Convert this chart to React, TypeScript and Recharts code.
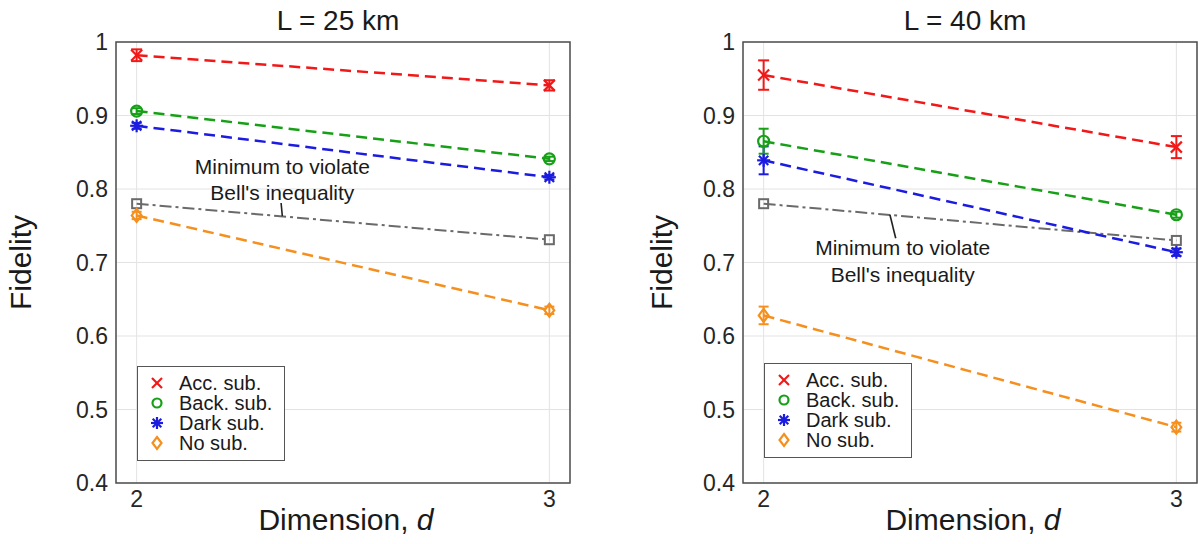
import React from 'react';
import {
  LineChart,
  Line,
  XAxis,
  YAxis,
  CartesianGrid,
  ErrorBar,
  ReferenceArea,
  ReferenceLine,
  ReferenceDot,
  Legend,
} from 'recharts';

// ---------- data ----------
const dimensions = [2, 3];
const xTicks = [2, 3];
const yTicks = [0.4, 0.5, 0.6, 0.7, 0.8, 0.9, 1];
const seriesNames = ['Acc. sub.', 'Back. sub.', 'Dark sub.', 'No sub.'];
const bellLabel = ['Minimum to violate', "Bell's inequality"];
const panelTitles = ['L = 25 km', 'L = 40 km'];

// L = 25 km
const acc25 = [0.982, 0.941];
const acc25Err = [0.008, 0.007];
const back25 = [0.906, 0.841];
const back25Err = [0.004, 0.003];
const dark25 = [0.886, 0.816];
const dark25Err = [0.004, 0.003];
const none25 = [0.764, 0.635];
const none25Err = [0.005, 0.005];
const bell25 = [0.78, 0.731];

// L = 40 km
const acc40 = [0.955, 0.857];
const acc40Err = [0.02, 0.015];
const back40 = [0.865, 0.765];
const back40Err = [0.017, 0.004];
const dark40 = [0.839, 0.714];
const dark40Err = [0.019, 0.005];
const none40 = [0.628, 0.476];
const none40Err = [0.012, 0.006];
const bell40 = [0.78, 0.73];

// annotation anchors (data coordinates)
const note25 = { x: 2.353, y1: 0.83, y2: 0.795, p0: { x: 2.353, y: 0.763 }, p1: { x: 2.35, y: 0.781 } };
const note40 = { x: 2.337, y1: 0.72, y2: 0.684, p0: { x: 2.306, y: 0.765 }, p1: { x: 2.32, y: 0.733 } };

// ---------- styles ----------
const RED = '#f21818';
const GREEN = '#17a017';
const BLUE = '#1c1ce0';
const ORANGE = '#f5901f';
const GRAY = '#6a6a6a';
const TEXT = '#1a1a1a';
const FONT = '"Liberation Sans", Arial, Helvetica, sans-serif';
const DASH = '11 6';
const LW = 2.5;

const makeRows = (
  acc: number[], accErr: number[],
  back: number[], backErr: number[],
  dark: number[], darkErr: number[],
  none: number[], noneErr: number[],
  bell: number[]
) =>
  dimensions.map((d, i) => ({
    d,
    acc: acc[i], accErr: accErr[i],
    back: back[i], backErr: backErr[i],
    dark: dark[i], darkErr: darkErr[i],
    none: none[i], noneErr: noneErr[i],
    bell: bell[i],
  }));

const rows25 = makeRows(acc25, acc25Err, back25, back25Err, dark25, dark25Err, none25, none25Err, bell25);
const rows40 = makeRows(acc40, acc40Err, back40, back40Err, dark40, dark40Err, none40, none40Err, bell40);

// ---------- markers ----------
type MP = { cx?: number; cy?: number; s?: number };
const CrossMark = ({ cx = 0, cy = 0, s = 5.5 }: MP) => (
  <g>
    <line x1={cx - s} y1={cy - s} x2={cx + s} y2={cy + s} stroke={RED} strokeWidth={2.2} />
    <line x1={cx - s} y1={cy + s} x2={cx + s} y2={cy - s} stroke={RED} strokeWidth={2.2} />
  </g>
);
const CircleMark = ({ cx = 0, cy = 0, s = 5.5 }: MP) => (
  <circle cx={cx} cy={cy} r={s} fill="none" stroke={GREEN} strokeWidth={2.2} />
);
const StarMark = ({ cx = 0, cy = 0, s = 6.5 }: MP) => {
  const d = s * 0.72;
  return (
    <g stroke={BLUE} strokeWidth={2.2}>
      <line x1={cx - s} y1={cy} x2={cx + s} y2={cy} />
      <line x1={cx} y1={cy - s} x2={cx} y2={cy + s} />
      <line x1={cx - d} y1={cy - d} x2={cx + d} y2={cy + d} />
      <line x1={cx - d} y1={cy + d} x2={cx + d} y2={cy - d} />
    </g>
  );
};
const DiamondMark = ({ cx = 0, cy = 0, s = 6.5 }: MP) => (
  <polygon
    points={`${cx},${cy - s} ${cx + s * 0.75},${cy} ${cx},${cy + s} ${cx - s * 0.75},${cy}`}
    fill="none"
    stroke={ORANGE}
    strokeWidth={2.2}
  />
);
const SquareMark = ({ cx = 0, cy = 0, s = 4.5 }: MP) => (
  <rect x={cx - s} y={cy - s} width={2 * s} height={2 * s} fill="none" stroke={GRAY} strokeWidth={2} />
);

const legendMarker = (i: number, cx: number, cy: number) => {
  if (i === 0) return <CrossMark cx={cx} cy={cy} s={5} />;
  if (i === 1) return <CircleMark cx={cx} cy={cy} s={4.5} />;
  if (i === 2) return <StarMark cx={cx} cy={cy} s={6} />;
  return <DiamondMark cx={cx} cy={cy} s={6} />;
};

const LegendBox = () => (
  <div
    style={{
      width: 148,
      height: 95,
      boxSizing: 'border-box',
      border: '1.5px solid #555',
      background: '#fff',
      paddingTop: 6,
      fontSize: 20,
      lineHeight: '20px',
      color: TEXT,
      fontFamily: FONT,
    }}
  >
    {seriesNames.map((n, i) => (
      <div key={n} style={{ display: 'flex', alignItems: 'center', height: 20 }}>
        <svg width={41} height={20} style={{ flex: 'none' }}>
          {legendMarker(i, 19, 10)}
        </svg>
        <span>{n}</span>
      </div>
    ))}
  </div>
);

type PanelProps = {
  title: string;
  rows: any[];
  left: number;
  width: number;
  marginLeft: number;
  marginRight: number;
  titleCenter: number;
  legendX: number;
  legendY: number;
  note: typeof note25;
  fidelityDist: number;
};

function Panel(p: PanelProps) {
  const tickStyle = { fontSize: 23, fill: '#262626' };
  return (
    <div style={{ position: 'absolute', left: p.left, top: 0, width: p.width, height: 544 }}>
      <div
        style={{
          position: 'absolute',
          left: p.titleCenter - 120,
          width: 240,
          top: 7,
          textAlign: 'center',
          fontSize: 28,
          lineHeight: '28px',
          color: TEXT,
          zIndex: 2,
        }}
      >
        {p.title}
      </div>
      <LineChart
        width={p.width}
        height={544}
        data={p.rows}
        margin={{ top: 42, right: p.marginRight, bottom: 11, left: p.marginLeft }}
      >
        <CartesianGrid stroke="#e3e3e3" strokeWidth={1} />
        <XAxis
          dataKey="d"
          type="number"
          domain={[1.95, 3.05]}
          ticks={xTicks}
          allowDataOverflow
          axisLine={false}
          tickLine={false}
          height={50}
          tick={tickStyle}
          label={{
            content: (lp: any) => {
              const vb = lp.viewBox || { x: 0, y: 0, width: 0 };
              return (
                <text x={vb.x + vb.width / 2 + 3} y={vb.y + 47} textAnchor="middle" fontSize={30} fill={TEXT}>
                  Dimension, <tspan fontStyle="italic">d</tspan>
                </text>
              );
            },
          }}
        />
        <YAxis
          type="number"
          domain={[0.4, 1]}
          ticks={yTicks}
          allowDataOverflow
          axisLine={false}
          tickLine={false}
          width={60}
          tick={tickStyle}
          tickFormatter={(v: number) => String(v)}
          label={{
            content: (lp: any) => {
              const vb = lp.viewBox || { x: 0, y: 0, width: 0, height: 0 };
              const x = vb.x + vb.width - p.fidelityDist;
              const y = vb.y + vb.height / 2;
              return (
                <text x={x} y={y} transform={`rotate(-90, ${x}, ${y})`} textAnchor="middle" fontSize={30} fill={TEXT}>
                  Fidelity
                </text>
              );
            },
          }}
        />
        <ReferenceArea x1={1.95} x2={3.05} y1={0.4} y2={1} fill="none" stroke="#4d4d4d" strokeWidth={1.5} />

        <Line
          dataKey="bell"
          stroke={GRAY}
          strokeWidth={2}
          strokeDasharray="12 4 3 4"
          dot={(dp: any) => <SquareMark key={`bell-${dp.index}`} cx={dp.cx} cy={dp.cy} />}
          activeDot={false}
          isAnimationActive={false}
          legendType="none"
        />
        <Line
          dataKey="none"
          stroke={ORANGE}
          strokeWidth={LW}
          strokeDasharray={DASH}
          dot={(dp: any) => <DiamondMark key={`none-${dp.index}`} cx={dp.cx} cy={dp.cy} />}
          activeDot={false}
          isAnimationActive={false}
        >
          <ErrorBar dataKey="noneErr" width={5} stroke={ORANGE} strokeWidth={2} direction="y" />
        </Line>
        <Line
          dataKey="dark"
          stroke={BLUE}
          strokeWidth={LW}
          strokeDasharray={DASH}
          dot={(dp: any) => <StarMark key={`dark-${dp.index}`} cx={dp.cx} cy={dp.cy} />}
          activeDot={false}
          isAnimationActive={false}
        >
          <ErrorBar dataKey="darkErr" width={5} stroke={BLUE} strokeWidth={2} direction="y" />
        </Line>
        <Line
          dataKey="back"
          stroke={GREEN}
          strokeWidth={LW}
          strokeDasharray={DASH}
          dot={(dp: any) => <CircleMark key={`back-${dp.index}`} cx={dp.cx} cy={dp.cy} />}
          activeDot={false}
          isAnimationActive={false}
        >
          <ErrorBar dataKey="backErr" width={5} stroke={GREEN} strokeWidth={2} direction="y" />
        </Line>
        <Line
          dataKey="acc"
          stroke={RED}
          strokeWidth={LW}
          strokeDasharray={DASH}
          dot={(dp: any) => <CrossMark key={`acc-${dp.index}`} cx={dp.cx} cy={dp.cy} />}
          activeDot={false}
          isAnimationActive={false}
        >
          <ErrorBar dataKey="accErr" width={5.5} stroke={RED} strokeWidth={2} direction="y" />
        </Line>

        <ReferenceLine segment={[p.note.p0, p.note.p1]} stroke="#222" strokeWidth={1.6} />
        <ReferenceDot
          x={p.note.x}
          y={p.note.y1}
          r={0}
          fill="none"
          stroke="none"
          label={{ value: bellLabel[0], position: 'center', fontSize: 21, fill: TEXT }}
        />
        <ReferenceDot
          x={p.note.x}
          y={p.note.y2}
          r={0}
          fill="none"
          stroke="none"
          label={{ value: bellLabel[1], position: 'center', fontSize: 21, fill: TEXT }}
        />

        <Legend
          layout="vertical"
          align="center"
          verticalAlign="middle"
          wrapperStyle={{ left: p.legendX, top: p.legendY, width: 148, height: 95 }}
          content={() => <LegendBox />}
        />
      </LineChart>
    </div>
  );
}

export default function App() {
  return (
    <div
      style={{
        position: 'absolute',
        left: 0,
        top: 0,
        width: 1198,
        height: 544,
        background: '#fff',
        fontFamily: FONT,
        overflow: 'hidden',
      }}
    >
      <Panel
        title={panelTitles[0]}
        rows={rows25}
        left={0}
        width={600}
        marginLeft={56}
        marginRight={30}
        titleCenter={338}
        legendX={137}
        legendY={366}
        note={note25}
        fidelityDist={85}
      />
      <Panel
        title={panelTitles[1]}
        rows={rows40}
        left={600}
        width={598}
        marginLeft={83}
        marginRight={1}
        titleCenter={365}
        legendX={164}
        legendY={363}
        note={note40}
        fidelityDist={71}
      />
    </div>
  );
}
